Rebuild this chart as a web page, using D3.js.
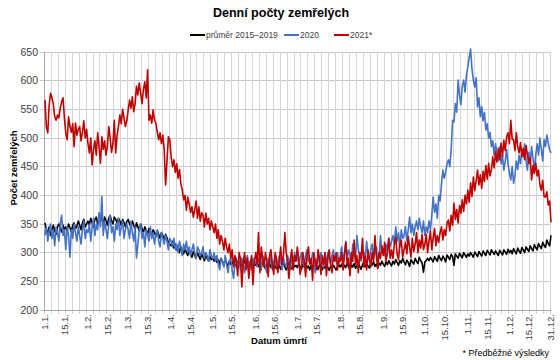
<!DOCTYPE html>
<html><head><meta charset="utf-8">
<script src="https://cdn.jsdelivr.net/npm/d3@7"></script>
<style>body{margin:0;background:#fff}svg{display:block;font-family:"Liberation Sans",Arial,sans-serif}</style>
</head><body><svg id="c" width="560" height="360"></svg>
<script>
const seriesNames = ["průměr 2015–2019", "2020", "2021*"];
const seriesColors = ["#000000", "#4472C4", "#C00000"];
const yTicks = [200,250,300,350,400,450,500,550,600,650];
const tickLabels = ["1.1.","15.1.","1.2.","15.2.","1.3.","15.3.","1.4.","15.4.","1.5.","15.5.","1.6.","15.6.","1.7.","15.7.","1.8.","15.8.","1.9.","15.9.","1.10.","15.10.","1.11.","15.11.","1.12.","15.12.","31.12."];
const tickDays = [0,14,31,45,60,74,91,105,121,135,152,166,182,196,213,227,244,258,274,288,305,319,335,349,365];

const avg = [
352,340,335,345,330,340,348,338,332,345,350,342,336,348,340,345,338,350,344,336,348,352,342,346,355,348,340,352,358,345,350,
355,348,360,352,345,358,362,350,355,365,358,350,362,356,348,360,365,355,350,362,358,352,360,355,348,358,352,345,355,
358,350,345,355,348,340,352,345,338,350,342,335,345,340,332,342,336,330,340,335,328,338,332,325,335,330,322,332,326,318,315,
312,320,308,315,305,312,300,310,305,298,308,300,295,305,298,292,302,295,290,300,294,288,298,292,286,295,290,285,293,288,
290,285,292,283,288,280,290,284,278,288,282,276,286,280,284,278,282,276,285,279,283,277,281,286,278,282,276,284,279,275,282,
278,284,276,281,275,283,278,272,280,276,282,274,279,283,276,272,280,277,271,279,282,275,270,278,283,276,272,280,275,278,
274,280,276,271,279,275,282,273,277,270,278,274,280,272,276,271,279,275,270,277,273,280,274,269,277,272,278,274,270,276,279,
275,280,272,278,274,282,276,270,279,275,281,273,277,283,276,271,279,284,275,280,277,273,281,278,284,276,280,274,282,278,285,
280,276,284,279,286,281,277,285,280,288,283,278,286,282,290,284,279,287,283,276,288,284,280,290,285,281,292,286,282,266,
284,286,290,286,292,288,284,293,289,285,295,290,286,294,290,284,296,292,288,297,293,278,298,294,290,299,295,291,300,296,292,
298,294,300,296,292,301,297,293,302,298,294,303,299,295,304,300,296,305,301,297,303,299,295,304,300,296,305,301,297,306,
300,304,298,307,302,298,308,303,299,309,305,300,310,306,302,312,307,303,314,309,305,316,311,307,318,313,309,322,316,312,330
];

const y2020 = [
330,345,320,338,350,325,340,312,345,335,320,350,365,330,340,305,345,330,292,340,325,350,335,320,345,330,315,340,355,325,340,
335,350,320,345,360,330,350,340,370,345,398,330,355,340,325,350,365,335,345,320,350,340,360,330,345,355,325,340,350,
340,325,355,335,320,345,291,315,340,350,325,335,310,340,330,320,345,325,335,315,330,340,320,310,335,325,315,330,320,305,325,
320,310,325,305,315,300,320,310,295,315,305,320,300,310,295,305,315,300,290,310,305,295,300,310,290,300,295,285,305,295,
290,300,285,295,280,270,290,285,275,295,280,265,285,290,270,255,280,290,275,285,270,290,280,265,285,295,275,285,270,290,280,
285,275,290,280,270,295,285,275,265,290,280,295,270,285,290,275,280,295,285,270,290,280,275,295,285,270,290,280,300,285,
295,280,290,300,285,275,295,305,285,290,280,300,290,265,285,295,280,300,290,275,295,285,300,290,280,295,305,285,290,300,280,
295,310,285,300,320,290,305,295,280,315,300,290,330,305,295,285,310,300,290,320,295,285,305,315,290,300,310,285,295,330,300,
305,295,315,300,325,310,320,330,315,345,320,335,310,340,325,330,345,320,340,362,335,350,330,345,355,340,360,345,335,355,
330,345,335,355,340,365,397,370,385,360,400,390,420,444,430,440,455,462,450,480,531,528,560,545,601,575,558,590,601,580,610,
624,640,655,620,601,589,605,554,570,537,555,530,545,514,525,500,510,485,495,470,490,474,460,485,455,470,444,460,480,455,
440,427,450,421,435,460,445,470,455,480,467,490,460,444,475,455,485,465,444,470,490,470,500,480,460,497,485,505,490,480,474
];

const y2021 = [
566,519,509,557,578,570,560,537,531,540,535,552,563,570,535,508,497,537,520,510,525,485,526,505,515,520,495,510,530,500,515,
490,474,500,453,480,495,470,509,485,456,502,480,495,470,485,520,500,475,490,531,474,505,520,540,525,550,535,520,530,
549,566,552,572,546,560,590,575,596,578,560,585,598,570,619,531,540,526,549,531,526,510,497,509,490,505,480,418,460,502,497,
467,450,462,440,455,430,445,420,410,392,400,374,397,385,370,380,362,375,390,360,380,355,370,365,345,369,350,360,340,355,
345,335,350,325,340,315,330,320,305,325,310,300,315,290,305,275,295,285,260,300,290,240,285,300,270,290,255,280,295,244,285,
300,280,335,265,310,290,275,300,285,258,295,305,280,262,300,290,265,285,310,280,295,335,300,285,255,290,305,270,295,285,
310,290,262,275,300,285,258,295,310,280,290,252,300,285,270,305,290,262,295,280,300,260,290,305,280,265,295,285,300,270,290,
285,300,270,295,318,280,290,260,300,285,322,280,295,265,300,290,325,275,295,270,305,290,275,300,285,330,295,272,300,290,312,
295,318,285,300,325,290,305,290,315,327,298,288,315,322,292,305,318,298,328,310,292,325,302,315,335,300,322,308,332,305,
315,332,300,320,338,305,325,342,312,330,318,335,345,322,340,330,352,357,338,365,348,386,358,375,352,382,369,392,372,400,385,
409,388,422,398,432,408,425,444,418,436,412,442,424,452,428,456,434,444,467,448,476,458,482,462,491,468,496,478,502,509,
490,531,498,497,478,509,484,474,492,468,482,462,487,470,456,466,427,452,438,456,434,444,418,409,426,398,397,406,383,390,353
];

const svg = d3.select("#c");
const x = d3.scaleLinear().domain([0,365]).range([45,551]);
const y = d3.scaleLinear().domain([200,650]).range([310,52]);

// horizontal grid
svg.append("g").selectAll("line").data(yTicks).join("line")
  .attr("x1",40).attr("x2",551).attr("y1",d=>y(d)).attr("y2",d=>y(d))
  .attr("stroke","#c8c8c8").attr("stroke-width",1).attr("shape-rendering","crispEdges");
// vertical grid every 5 days
svg.append("g").selectAll("line").data(d3.range(0,366,5)).join("line")
  .attr("x1",d=>Math.round(x(d))-0.5).attr("x2",d=>Math.round(x(d))-0.5).attr("y1",y(650)).attr("y2",y(200)+4)
  .attr("stroke","#d4d4d4").attr("stroke-width",1);
// axes lines
svg.append("line").attr("x1",44.5).attr("x2",44.5).attr("y1",y(650)).attr("y2",y(200)).attr("stroke","#a6a6a6");
svg.append("line").attr("x1",44).attr("x2",551).attr("y1",y(200)+0.5).attr("y2",y(200)+0.5).attr("stroke","#a6a6a6");

// y tick labels
svg.append("g").selectAll("text").data(yTicks).join("text")
  .attr("x",38).attr("y",d=>y(d)+3.8).attr("text-anchor","end")
  .attr("font-size",10.5).attr("fill","#404040").text(d=>d);

// x tick labels
svg.append("g").selectAll("text").data(tickDays).join("text")
  .attr("transform",(d)=>`translate(${x(d)+3.3},314) rotate(-90)`)
  .attr("text-anchor","end").attr("font-size",9.5).attr("fill","#404040")
  .text((d,i)=>tickLabels[i]);

// lines
const line = d3.line().x((d,i)=>x(i)).y(d=>y(d));
[avg, y2020, y2021].forEach((s,k)=>{
  svg.append("path").datum(s).attr("d",line).attr("fill","none")
    .attr("stroke",seriesColors[k]).attr("stroke-width",1.6).attr("stroke-linejoin","round");
});

// title
svg.append("text").attr("x",281).attr("y",17).attr("text-anchor","middle")
  .attr("font-size",12.5).attr("font-weight","bold").attr("fill","#000").text("Denní počty zemřelých");

// legend
const legX = [190, 284, 334];
seriesNames.forEach((n,k)=>{
  svg.append("line").attr("x1",legX[k]).attr("x2",legX[k]+15).attr("y1",35).attr("y2",35)
    .attr("stroke",seriesColors[k]).attr("stroke-width",2);
  svg.append("text").attr("x",legX[k]+16).attr("y",38).attr("font-size",8.5).attr("fill","#404040").text(n);
});

// axis titles
svg.append("text").attr("transform","translate(17,168) rotate(-90)").attr("text-anchor","middle")
  .attr("font-size",9.5).attr("font-weight","bold").attr("fill","#000").text("Počet zemřelých");
svg.append("text").attr("x",279).attr("y",344).attr("text-anchor","middle")
  .attr("font-size",9.5).attr("font-weight","bold").attr("fill","#000").text("Datum úmrtí");
svg.append("text").attr("x",549).attr("y",356).attr("text-anchor","end")
  .attr("font-size",9).attr("fill","#000").text("* Předběžné výsledky");
</script></body></html>
